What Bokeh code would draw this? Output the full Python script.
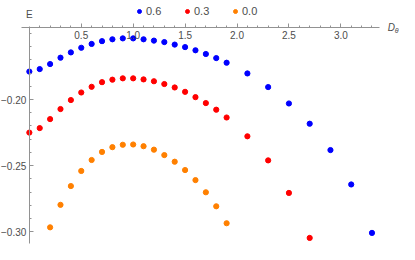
from bokeh.plotting import figure
from bokeh.models import (Range1d, FixedTicker, CustomJSTickFormatter, Legend,
                          LegendItem, Label)
from bokeh.embed import file_html
from bokeh.resources import INLINE

# ---- data ----
d_blue = [0.0, 0.1, 0.2, 0.3, 0.4, 0.5, 0.6, 0.7, 0.8, 0.9, 1.0, 1.1, 1.2, 1.3,
          1.4, 1.5, 1.6, 1.7, 1.8, 1.9, 2.1, 2.3, 2.5, 2.7, 2.9, 3.1, 3.3]
e_blue = [-0.1789, -0.1770, -0.1732, -0.1684, -0.1644, -0.1609, -0.1580, -0.1559,
          -0.1545, -0.1538, -0.1538, -0.1545, -0.1555, -0.1566, -0.1585, -0.1604,
          -0.1628, -0.1656, -0.1687, -0.1722, -0.1803, -0.1906, -0.2030, -0.2183,
          -0.2382, -0.2642, -0.3008]

d_red = [0.0, 0.1, 0.2, 0.3, 0.4, 0.5, 0.6, 0.7, 0.8, 0.9, 1.0, 1.1, 1.2, 1.3,
         1.4, 1.5, 1.6, 1.7, 1.8, 1.9, 2.1, 2.3, 2.5, 2.7]
e_red = [-0.2250, -0.2216, -0.2148, -0.2072, -0.2004, -0.1947, -0.1904, -0.1869,
         -0.1850, -0.1840, -0.1840, -0.1848, -0.1862, -0.1883, -0.1909, -0.1942,
         -0.1982, -0.2027, -0.2077, -0.2136, -0.2278, -0.2460, -0.2706, -0.3046]

d_orange = [0.2, 0.3, 0.4, 0.5, 0.6, 0.7, 0.8, 0.9, 1.0, 1.1, 1.2, 1.3, 1.4, 1.5,
            1.6, 1.7, 1.8, 1.9]
e_orange = [-0.2966, -0.2796, -0.2654, -0.2540, -0.2457, -0.2396, -0.2360, -0.2342,
            -0.2340, -0.2353, -0.2379, -0.2420, -0.2470, -0.2533, -0.2609, -0.2701,
            -0.2807, -0.2935]

series_labels = ["0.6", "0.3", "0.0"]

x_major_ticks = [0.5, 1.0, 1.5, 2.0, 2.5, 3.0]
x_minor_ticks = [0.1, 0.2, 0.3, 0.4, 0.6, 0.7, 0.8, 0.9, 1.1, 1.2, 1.3, 1.4, 1.6,
                 1.7, 1.8, 1.9, 2.1, 2.2, 2.3, 2.4, 2.6, 2.7, 2.8, 2.9, 3.1, 3.2, 3.3]
y_major_ticks = [-0.30, -0.25, -0.20]
y_minor_ticks = [-0.15, -0.16, -0.17, -0.18, -0.19, -0.21, -0.22, -0.23, -0.24,
                 -0.26, -0.27, -0.28, -0.29]

x_label_main = "D"
x_label_sub = "θ"
y_label = "E"

# ---- styling / layout ----
AXIS = "#929292"
TEXT = "#4d4d4d"
FONT = "Liberation Sans"
BLUE = "#0000ff"
RED = "#ff0000"
ORANGE = "#ff8000"

X_RANGE = (-0.2778, 3.565)
Y_RANGE = (-0.30957, -0.12518)
X_AXIS_AT = -0.1457          # E value where the D axis crosses
X_AXIS_BOUNDS = (-0.075, 3.37)
Y_AXIS_BOUNDS = (-0.3089, -0.1450)

p = figure(width=399, height=244, output_backend="svg", toolbar_location=None,
           x_range=Range1d(*X_RANGE), y_range=Range1d(*Y_RANGE),
           min_border_left=0, min_border_right=0, min_border_top=0,
           min_border_bottom=0)
p.outline_line_color = None
p.xgrid.visible = False
p.ygrid.visible = False
p.background_fill_color = "white"
p.border_fill_color = "white"

xa = p.xaxis[0]
xa.fixed_location = X_AXIS_AT
xa.bounds = X_AXIS_BOUNDS
xa.ticker = FixedTicker(ticks=x_major_ticks, minor_ticks=x_minor_ticks)
xa.formatter = CustomJSTickFormatter(code="return tick.toFixed(1);")
ya = p.yaxis[0]
ya.fixed_location = 0
ya.bounds = Y_AXIS_BOUNDS
ya.ticker = FixedTicker(ticks=y_major_ticks, minor_ticks=y_minor_ticks)
ya.formatter = CustomJSTickFormatter(
    code="return (tick < 0 ? '\u2212' : '') + Math.abs(tick).toFixed(2);")
for ax in (xa, ya):
    ax.axis_line_color = AXIS
    ax.major_tick_line_color = AXIS
    ax.minor_tick_line_color = AXIS
    ax.major_tick_in = 4
    ax.major_tick_out = 0
    ax.minor_tick_in = 2
    ax.minor_tick_out = 0
    ax.major_label_text_color = TEXT
    ax.major_label_text_font = FONT
    ax.major_label_text_font_size = "10px"
    ax.major_label_standoff = 3

rb = p.scatter(d_blue, e_blue, size=5.2, color=BLUE)
rr = p.scatter(d_red, e_red, size=5.2, color=RED)
ro = p.scatter(d_orange, e_orange, size=5.2, color=ORANGE)

legend = Legend(items=[LegendItem(label=series_labels[0], renderers=[rb]),
                       LegendItem(label=series_labels[1], renderers=[rr]),
                       LegendItem(label=series_labels[2], renderers=[ro])],
                orientation="horizontal", location=(134, 227),
                glyph_width=10, glyph_height=10, label_height=12, label_width=20,
                label_standoff=2, spacing=16, padding=0, margin=0,
                border_line_color=None, background_fill_alpha=0,
                label_text_font=FONT, label_text_font_size="11px",
                label_text_color=TEXT)
p.add_layout(legend)

p.add_layout(Label(x=0, y=X_AXIS_AT, text=y_label, y_offset=8, text_align="center",
                   text_baseline="bottom", text_font=FONT, text_font_size="10px",
                   text_color=TEXT))
p.add_layout(Label(x=X_AXIS_BOUNDS[1], y=X_AXIS_AT, text=x_label_main, x_offset=8.5,
                   text_align="left", text_baseline="middle", text_font=FONT,
                   text_font_size="10px", text_font_style="italic", text_color=TEXT))
p.add_layout(Label(x=X_AXIS_BOUNDS[1], y=X_AXIS_AT, text=x_label_sub, x_offset=15.5,
                   y_offset=-2.5, text_align="left", text_baseline="middle",
                   text_font=FONT, text_font_size="7px", text_font_style="italic",
                   text_color=TEXT))

open("out.html", "w").write(file_html(p, INLINE))
